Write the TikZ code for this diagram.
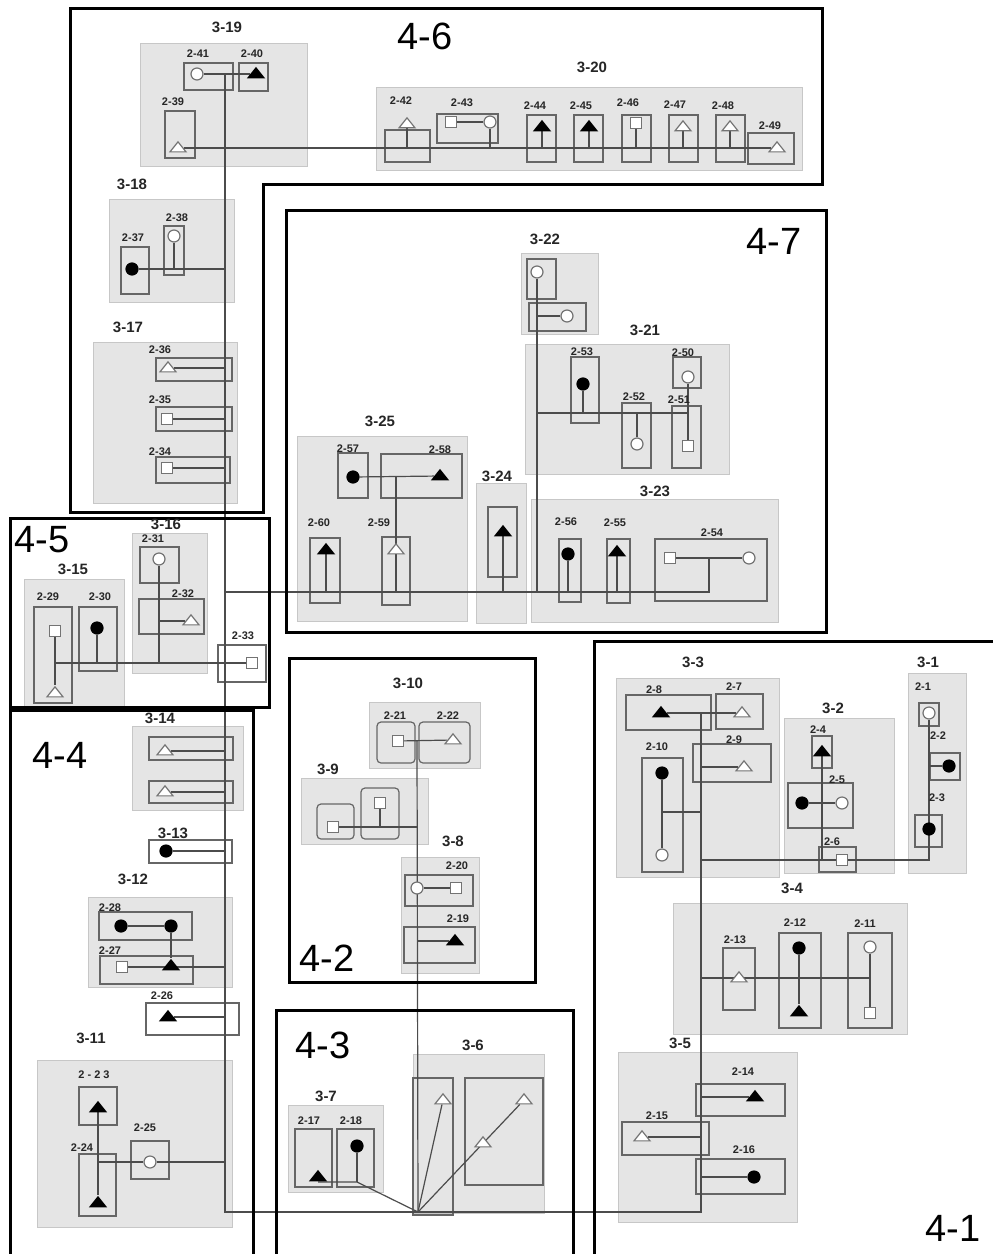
\documentclass[tikz,border=0pt]{standalone}
\usepackage{fontspec}
\setmainfont{Liberation Sans}
\usepackage{tikz}
\usetikzlibrary{shapes.geometric,fit,calc}
\pgfdeclarelayer{back}
\pgfdeclarelayer{wire}
\pgfsetlayers{back,wire,main}

\begin{document}
\begin{tikzpicture}[x=0.5pt, y=-0.5pt,
    boxg/.style={rectangle, draw=black!22, fill=black!10, line width=0.5pt, inner sep=0pt},
    boxi/.style={rectangle, draw=black!60, line width=0.6pt, inner sep=0pt},
    zone/.style={draw=black, line width=1.5pt},
    wire/.style={draw=black!70, line width=0.6pt},
    sym/.style={inner sep=0pt, line width=0.6pt},
    fcirc/.style={sym, circle, minimum size=6pt, fill=black, draw=black},
    ocirc/.style={sym, circle, minimum size=6pt, fill=white, draw=black!55},
    osq/.style={sym, rectangle, minimum size=5.5pt, fill=white, draw=black!55},
    tri/.style={sym, isosceles triangle, isosceles triangle stretches, shape border rotate=90, minimum width=8pt, minimum height=5pt},
    ftri/.style={tri, fill=black, draw=black},
    otri/.style={tri, fill=white, draw=black!55},
    glbl/.style={font=\fontsize{7.5}{8}\selectfont\bfseries, text=black!85, inner sep=0pt},
    ilbl/.style={font=\fontsize{5.5}{6}\selectfont\bfseries, text=black!85, inner sep=0pt},
    zlbl/.style={font=\fontsize{19}{20}\selectfont, inner sep=0pt}
]
\useasboundingbox (0,0) rectangle (993,1254);

\begin{pgfonlayer}{back}
\fill[white] (0,0) rectangle (993,1254);
\node[boxg, fit={(140,43) (307,166)}] (g19) {};
\node[boxg, fit={(376,87) (802,170)}] (g20) {};
\node[boxg, fit={(109,199) (234,302)}] (g18) {};
\node[boxg, fit={(93,342) (237,503)}] (g17) {};
\node[boxg, fit={(132,533) (207,673)}] (g16) {};
\node[boxg, fit={(24,579) (124,707)}] (g15) {};
\node[boxg, fit={(521,253) (598,334)}] (g22) {};
\node[boxg, fit={(525,344) (729,474)}] (g21) {};
\node[boxg, fit={(297,436) (467,621)}] (g25) {};
\node[boxg, fit={(476,483) (526,623)}] (g24) {};
\node[boxg, fit={(531,499) (778,622)}] (g23) {};
\node[boxg, fit={(369,702) (480,768)}] (g10) {};
\node[boxg, fit={(301,778) (428,844)}] (g9) {};
\node[boxg, fit={(401,857) (479,973)}] (g8) {};
\node[boxg, fit={(132,726) (243,810)}] (g14) {};
\node[boxg, fit={(88,897) (232,987)}] (g12) {};
\node[boxg, fit={(37,1060) (232,1227)}] (g11) {};
\node[boxg, fit={(288,1105) (383,1192)}] (g7) {};
\node[boxg, fit={(413,1054) (544,1213)}] (g6) {};
\node[boxg, fit={(616,678) (779,877)}] (g3) {};
\node[boxg, fit={(784,718) (894,873)}] (g2) {};
\node[boxg, fit={(908,673) (966,873)}] (g1) {};
\node[boxg, fit={(673,903) (907,1034)}] (g4) {};
\node[boxg, fit={(618,1052) (797,1222)}] (g5) {};

\node[boxi, fit={(184,63) (233,90)}] (r41) {};
\node[boxi, fit={(239,63) (268,91)}] (r40) {};
\node[boxi, fit={(165,111) (195,158)}] (r39) {};
\node[boxi, fit={(385,130) (430,162)}] (r42) {};
\node[boxi, fit={(437,114) (498,143)}] (r43) {};
\node[boxi, fit={(527,115) (556,162)}] (r44) {};
\node[boxi, fit={(574,115) (603,162)}] (r45) {};
\node[boxi, fit={(622,115) (651,162)}] (r46) {};
\node[boxi, fit={(669,115) (698,162)}] (r47) {};
\node[boxi, fit={(716,115) (745,162)}] (r48) {};
\node[boxi, fit={(748,133) (794,164)}] (r49) {};
\node[boxi, fit={(164,226) (184,275)}] (r38) {};
\node[boxi, fit={(121,247) (149,294)}] (r37) {};
\node[boxi, fit={(156,358) (232,381)}] (r36) {};
\node[boxi, fit={(156,407) (232,431)}] (r35) {};
\node[boxi, fit={(156,457) (230,483)}] (r34) {};
\node[boxi, fit={(140,547) (179,583)}] (r31) {};
\node[boxi, fit={(139,599) (204,634)}] (r32) {};
\node[boxi, fit={(34,607) (72,703)}] (r29) {};
\node[boxi, fit={(79,607) (117,671)}] (r30) {};
\node[boxi, fit={(218,645) (266,682)}] (r33) {};
\node[boxi, fit={(527,259) (556,299)}] (u22a) {};
\node[boxi, fit={(529,303) (586,331)}] (u22b) {};
\node[boxi, fit={(571,357) (599,423)}] (r53) {};
\node[boxi, fit={(673,357) (701,388)}] (r50) {};
\node[boxi, fit={(622,403) (651,468)}] (r52) {};
\node[boxi, fit={(672,406) (701,468)}] (r51) {};
\node[boxi, fit={(338,453) (368,498)}] (r57) {};
\node[boxi, fit={(381,454) (462,498)}] (r58) {};
\node[boxi, fit={(310,538) (340,603)}] (r60) {};
\node[boxi, fit={(382,537) (410,605)}] (r59) {};
\node[boxi, fit={(488,507) (517,577)}] (u24) {};
\node[boxi, fit={(559,539) (581,602)}] (r56) {};
\node[boxi, fit={(607,539) (630,603)}] (r55) {};
\node[boxi, fit={(655,539) (767,601)}] (r54) {};
\node[boxi, rounded corners=2pt, fit={(377,722) (415,763)}] (r21) {};
\node[boxi, rounded corners=2pt, fit={(419,722) (470,763)}] (r22) {};
\node[boxi, rounded corners=2pt, fit={(317,804) (354,839)}] (u9a) {};
\node[boxi, rounded corners=2pt, fit={(361,788) (399,839)}] (u9b) {};
\node[boxi, fit={(405,875) (473,906)}] (r20) {};
\node[boxi, fit={(404,927) (475,963)}] (r19) {};
\node[boxi, fit={(149,737) (233,760)}] (u14a) {};
\node[boxi, fit={(149,781) (233,803)}] (u14b) {};
\node[boxi, fit={(149,840) (232,863)}] (u13) {};
\node[boxi, fit={(99,912) (192,940)}] (r28) {};
\node[boxi, fit={(100,956) (193,984)}] (r27) {};
\node[boxi, fit={(146,1003) (239,1035)}] (r26) {};
\node[boxi, fit={(79,1087) (117,1125)}] (r23) {};
\node[boxi, fit={(79,1154) (116,1216)}] (r24) {};
\node[boxi, fit={(131,1141) (169,1179)}] (r25) {};
\node[boxi, fit={(295,1129) (332,1187)}] (r17) {};
\node[boxi, fit={(337,1129) (374,1187)}] (r18) {};
\node[boxi, fit={(413,1078) (453,1215)}] (u6a) {};
\node[boxi, fit={(465,1078) (543,1185)}] (u6b) {};
\node[boxi, fit={(626,695) (711,730)}] (r8) {};
\node[boxi, fit={(716,694) (763,729)}] (r7) {};
\node[boxi, fit={(693,744) (771,782)}] (r9) {};
\node[boxi, fit={(642,758) (683,872)}] (r10) {};
\node[boxi, fit={(812,736) (832,768)}] (r4) {};
\node[boxi, fit={(788,783) (853,828)}] (r5) {};
\node[boxi, fit={(819,847) (856,872)}] (r6) {};
\node[boxi, fit={(919,703) (939,726)}] (r1) {};
\node[boxi, fit={(930,753) (960,780)}] (r2) {};
\node[boxi, fit={(915,815) (942,847)}] (r3) {};
\node[boxi, fit={(723,948) (755,1010)}] (r13) {};
\node[boxi, fit={(779,933) (821,1028)}] (r12) {};
\node[boxi, fit={(848,933) (892,1028)}] (r11) {};
\node[boxi, fit={(696,1084) (785,1116)}] (r14) {};
\node[boxi, fit={(622,1122) (709,1155)}] (r15) {};
\node[boxi, fit={(696,1159) (785,1194)}] (r16) {};
\end{pgfonlayer}

\node[ocirc] (s41) at (197,74) {};
\node[ftri] (s40) at (256,74) {};
\node[otri] (s39) at (178,148) {};
\node[otri] (s42) at (407,124) {};
\node[osq] (s43a) at (451,122) {};
\node[ocirc] (s43b) at (490,122) {};
\node[ftri] (s44) at (542,127) {};
\node[ftri] (s45) at (589,127) {};
\node[osq] (s46) at (636,123) {};
\node[otri] (s47) at (683,127) {};
\node[otri] (s48) at (730,127) {};
\node[otri] (s49) at (777,148) {};
\node[ocirc] (s38) at (174,236) {};
\node[fcirc] (s37) at (132,269) {};
\node[otri] (s36) at (168,368) {};
\node[osq] (s35) at (167,419) {};
\node[osq] (s34) at (167,468) {};
\node[ocirc] (s31) at (159,559) {};
\node[otri] (s32) at (191,621) {};
\node[osq] (s29a) at (55,631) {};
\node[otri] (s29b) at (55,693) {};
\node[fcirc] (s30) at (97,628) {};
\node[osq] (s33) at (252,663) {};
\node[ocirc] (v22a) at (537,272) {};
\node[ocirc] (v22b) at (567,316) {};
\node[fcirc] (s53) at (583,384) {};
\node[ocirc] (s50) at (688,377) {};
\node[ocirc] (s52) at (637,444) {};
\node[osq] (s51) at (688,446) {};
\node[fcirc] (s57) at (353,477) {};
\node[ftri] (s58) at (440,476) {};
\node[ftri] (s60) at (326,550) {};
\node[otri] (s59) at (396,550) {};
\node[ftri] (v24) at (503,532) {};
\node[fcirc] (s56) at (568,554) {};
\node[ftri] (s55) at (617,552) {};
\node[osq] (s54a) at (670,558) {};
\node[ocirc] (s54b) at (749,558) {};
\node[osq] (s21) at (398,741) {};
\node[otri] (s22) at (453,740) {};
\node[osq] (v9a) at (333,827) {};
\node[osq] (v9b) at (380,803) {};
\node[ocirc] (s20a) at (417,888) {};
\node[osq] (s20b) at (456,888) {};
\node[ftri] (s19) at (455,941) {};
\node[otri] (v14a) at (165,751) {};
\node[otri] (v14b) at (165,792) {};
\node[fcirc] (v13) at (166,851) {};
\node[fcirc] (s28a) at (121,926) {};
\node[fcirc] (s28b) at (171,926) {};
\node[osq] (s27a) at (122,967) {};
\node[ftri] (s27b) at (171,966) {};
\node[ftri] (s26) at (168,1017) {};
\node[ftri] (s23) at (98,1108) {};
\node[ftri] (s24) at (98,1203) {};
\node[ocirc] (s25) at (150,1162) {};
\node[ftri] (s17) at (318,1177) {};
\node[fcirc] (s18) at (357,1146) {};
\node[otri] (v6a) at (443,1100) {};
\node[otri] (v6b) at (524,1100) {};
\node[otri] (v6c) at (483,1143) {};
\node[ftri] (s8) at (661,713) {};
\node[otri] (s7) at (742,713) {};
\node[otri] (s9) at (744,767) {};
\node[fcirc] (s10a) at (662,773) {};
\node[ocirc] (s10b) at (662,855) {};
\node[ftri] (s4) at (822,752) {};
\node[fcirc] (s5a) at (802,803) {};
\node[ocirc] (s5b) at (842,803) {};
\node[osq] (s6) at (842,860) {};
\node[ocirc] (s1) at (929,713) {};
\node[fcirc] (s2) at (949,766) {};
\node[fcirc] (s3) at (929,829) {};
\node[otri] (s13) at (739,978) {};
\node[fcirc] (s12a) at (799,948) {};
\node[ftri] (s12b) at (799,1012) {};
\node[ocirc] (s11a) at (870,947) {};
\node[osq] (s11b) at (870,1013) {};
\node[ftri] (s14) at (755,1097) {};
\node[otri] (s15) at (642,1137) {};
\node[fcirc] (s16) at (754,1177) {};

\coordinate (k1) at (225,74);
\coordinate (k2) at (225,1212);
\coordinate (k3) at (701,1212);
\coordinate (f) at (418,1212);
\coordinate (m1) at (225,592);
\coordinate (m2) at (709,592);
\coordinate (m3) at (537,413);
\coordinate (q1) at (417,741);
\coordinate (q2) at (357,1182);
\coordinate (p1) at (701,713);
\coordinate (p2) at (701,812);
\coordinate (p3) at (701,860);
\coordinate (p4) at (701,978);

\begin{pgfonlayer}{wire}
\draw[wire] (s41) -- (s40);
\draw[wire] (k1) -- (k2) -- (k3) -- (p1);
\draw[wire] (s39) -- (s49);
\draw[wire] (s43a) -- (s43b) -- (s43b |- s39);
\draw[wire] (s42) -- (s42 |- s39);
\draw[wire] (s44) -- (s44 |- s39);
\draw[wire] (s45) -- (s45 |- s39);
\draw[wire] (s46) -- (s46 |- s39);
\draw[wire] (s47) -- (s47 |- s39);
\draw[wire] (s48) -- (s48 |- s39);
\draw[wire] (s37) -- (s37 -| k1);
\draw[wire] (s38) -- (s38 |- s37);
\draw[wire] (s36) -- (s36 -| k1);
\draw[wire] (s35) -- (s35 -| k1);
\draw[wire] (s34) -- (s34 -| k1);
\draw[wire] (s29a) -- (s29b);
\draw[wire] (s29a |- s33) -- (s33);
\draw[wire] (s30) -- (s30 |- s33);
\draw[wire] (s31) -- (s31 |- s33);
\draw[wire] (s32) -- (s32 -| s31);
\draw[wire] (m1) -- (m2) -- (m2 |- s54a);
\draw[wire] (s54a) -- (s54b);
\draw[wire] (s57) -- (s58);
\draw[wire] (s59 |- s57) -- (s59 |- m1);
\draw[wire] (s60) -- (s60 |- m1);
\draw[wire] (v24) -- (v24 |- m1);
\draw[wire] (v22a) -- (v22a |- m1);
\draw[wire] (v22b) -- (v22a |- v22b);
\draw[wire] (s56) -- (s56 |- m1);
\draw[wire] (s55) -- (s55 |- m1);
\draw[wire] (m3) -- (m3 -| s50);
\draw[wire] (s53) -- (s53 |- m3);
\draw[wire] (s52) -- (s52 |- m3);
\draw[wire] (s50) -- (s51);
\draw[wire] (s21) -- (s22);
\draw[wire] (q1) -- (f);
\draw[wire] (v9a) -- (v9a -| q1);
\draw[wire] (v9b) -- (v9b |- v9a);
\draw[wire] (s20a) -- (s20b);
\draw[wire] (s19) -- (s19 -| q1);
\draw[wire] (v14a) -- (v14a -| k1);
\draw[wire] (v14b) -- (v14b -| k1);
\draw[wire] (v13) -- (v13 -| k1);
\draw[wire] (s28a) -- (s28b) -- (s27b);
\draw[wire] (s27a) -- (s27a -| k1);
\draw[wire] (s26) -- (s26 -| k1);
\draw[wire] (s23) -- (s24);
\draw[wire] (s24 |- s25) -- (s25) -- (s25 -| k1);
\draw[wire] (s17 |- q2) -- (q2) -- (f);
\draw[wire] (s18) -- (q2);
\draw[wire] (f) -- (v6a);
\draw[wire] (f) -- (v6b);
\draw[wire] (s8) -- (s7);
\draw[wire] (s9) -- (s9 -| p1);
\draw[wire] (s10a) -- (s10b);
\draw[wire] (s10a |- p2) -- (p2);
\draw[wire] (p3) -- (p3 -| s1) -- (s1);
\draw[wire] (s4) -- (s4 |- p3);
\draw[wire] (s5a) -- (s5b);
\draw[wire] (s2) -- (s2 -| s1);
\draw[wire] (p4) -- (p4 -| s11a);
\draw[wire] (s12a) -- (s12b);
\draw[wire] (s11a) -- (s11b);
\draw[wire] (s14) -- (s14 -| p1);
\draw[wire] (s15) -- (s15 -| p1);
\draw[wire] (s16) -- (s16 -| p1);
\end{pgfonlayer}

\draw[zone] (70,8) -- (822,8) -- (822,184) -- (263,184) -- (263,512) -- (70,512) -- cycle;
\draw[zone] (286,210) rectangle (826,632);
\draw[zone] (10,518) rectangle (269,707);
\draw[zone] (10,1254) -- (10,710) -- (253,710) -- (253,1254);
\draw[zone] (289,658) rectangle (535,982);
\draw[zone] (276,1254) -- (276,1010) -- (573,1010) -- (573,1254);
\draw[zone] (594,1254) -- (594,641) -- (993,641);

\node[zlbl] (z6) at (425,36) {4-6};
\node[zlbl] (z7) at (774,241) {4-7};
\node[zlbl] (z5) at (42,540) {4-5};
\node[zlbl] (z4) at (60,755) {4-4};
\node[zlbl] (z2) at (327,958) {4-2};
\node[zlbl] (z3) at (323,1045) {4-3};
\node[zlbl] (z1) at (953,1228) {4-1};

\node[glbl] (h19) at (227,27) {3-19};
\node[glbl] (h20) at (592,67) {3-20};
\node[glbl] (h18) at (132,184) {3-18};
\node[glbl] (h17) at (128,327) {3-17};
\node[glbl] (h16) at (166,524) {3-16};
\node[glbl] (h15) at (73,569) {3-15};
\node[glbl] (h22) at (545,239) {3-22};
\node[glbl] (h21) at (645,330) {3-21};
\node[glbl] (h25) at (380,421) {3-25};
\node[glbl] (h24) at (497,476) {3-24};
\node[glbl] (h23) at (655,491) {3-23};
\node[glbl] (h10) at (408,683) {3-10};
\node[glbl] (h9) at (328,769) {3-9};
\node[glbl] (h8) at (453,841) {3-8};
\node[glbl] (h14) at (160,718) {3-14};
\node[glbl] (h13) at (173,833) {3-13};
\node[glbl] (h12) at (133,879) {3-12};
\node[glbl] (h11) at (91,1038) {3-11};
\node[glbl] (h7) at (326,1096) {3-7};
\node[glbl] (h6) at (473,1045) {3-6};
\node[glbl] (h3) at (693,662) {3-3};
\node[glbl] (h2) at (833,708) {3-2};
\node[glbl] (h1) at (928,662) {3-1};
\node[glbl] (h4) at (792,888) {3-4};
\node[glbl] (h5) at (680,1043) {3-5};

\node[ilbl] (t41) at (198,54) {2-41};
\node[ilbl] (t40) at (252,54) {2-40};
\node[ilbl] (t39) at (173,102) {2-39};
\node[ilbl] (t42) at (401,101) {2-42};
\node[ilbl] (t43) at (462,103) {2-43};
\node[ilbl] (t44) at (535,106) {2-44};
\node[ilbl] (t45) at (581,106) {2-45};
\node[ilbl] (t46) at (628,103) {2-46};
\node[ilbl] (t47) at (675,105) {2-47};
\node[ilbl] (t48) at (723,106) {2-48};
\node[ilbl] (t49) at (770,126) {2-49};
\node[ilbl] (t38) at (177,218) {2-38};
\node[ilbl] (t37) at (133,238) {2-37};
\node[ilbl] (t36) at (160,350) {2-36};
\node[ilbl] (t35) at (160,400) {2-35};
\node[ilbl] (t34) at (160,452) {2-34};
\node[ilbl] (t31) at (153,539) {2-31};
\node[ilbl] (t32) at (183,594) {2-32};
\node[ilbl] (t29) at (48,597) {2-29};
\node[ilbl] (t30) at (100,597) {2-30};
\node[ilbl] (t33) at (243,636) {2-33};
\node[ilbl] (t53) at (582,352) {2-53};
\node[ilbl] (t50) at (683,353) {2-50};
\node[ilbl] (t52) at (634,397) {2-52};
\node[ilbl] (t51) at (679,400) {2-51};
\node[ilbl] (t57) at (348,449) {2-57};
\node[ilbl] (t58) at (440,450) {2-58};
\node[ilbl] (t60) at (319,523) {2-60};
\node[ilbl] (t59) at (379,523) {2-59};
\node[ilbl] (t56) at (566,522) {2-56};
\node[ilbl] (t55) at (615,523) {2-55};
\node[ilbl] (t54) at (712,533) {2-54};
\node[ilbl] (t21) at (395,716) {2-21};
\node[ilbl] (t22) at (448,716) {2-22};
\node[ilbl] (t20) at (457,866) {2-20};
\node[ilbl] (t19) at (458,919) {2-19};
\node[ilbl] (t28) at (110,908) {2-28};
\node[ilbl] (t27) at (110,951) {2-27};
\node[ilbl] (t26) at (162,996) {2-26};
\node[ilbl] (t23) at (94,1075) {2 - 2 3};
\node[ilbl] (t24) at (82,1148) {2-24};
\node[ilbl] (t25) at (145,1128) {2-25};
\node[ilbl] (t17) at (309,1121) {2-17};
\node[ilbl] (t18) at (351,1121) {2-18};
\node[ilbl] (t8) at (654,690) {2-8};
\node[ilbl] (t7) at (734,687) {2-7};
\node[ilbl] (t9) at (734,740) {2-9};
\node[ilbl] (t10) at (657,747) {2-10};
\node[ilbl] (t4) at (818,730) {2-4};
\node[ilbl] (t5) at (837,780) {2-5};
\node[ilbl] (t6) at (832,842) {2-6};
\node[ilbl] (t1) at (923,687) {2-1};
\node[ilbl] (t2) at (938,736) {2-2};
\node[ilbl] (t3) at (937,798) {2-3};
\node[ilbl] (t13) at (735,940) {2-13};
\node[ilbl] (t12) at (795,923) {2-12};
\node[ilbl] (t11) at (865,924) {2-11};
\node[ilbl] (t14) at (743,1072) {2-14};
\node[ilbl] (t15) at (657,1116) {2-15};
\node[ilbl] (t16) at (744,1150) {2-16};
\end{tikzpicture}
\end{document}
